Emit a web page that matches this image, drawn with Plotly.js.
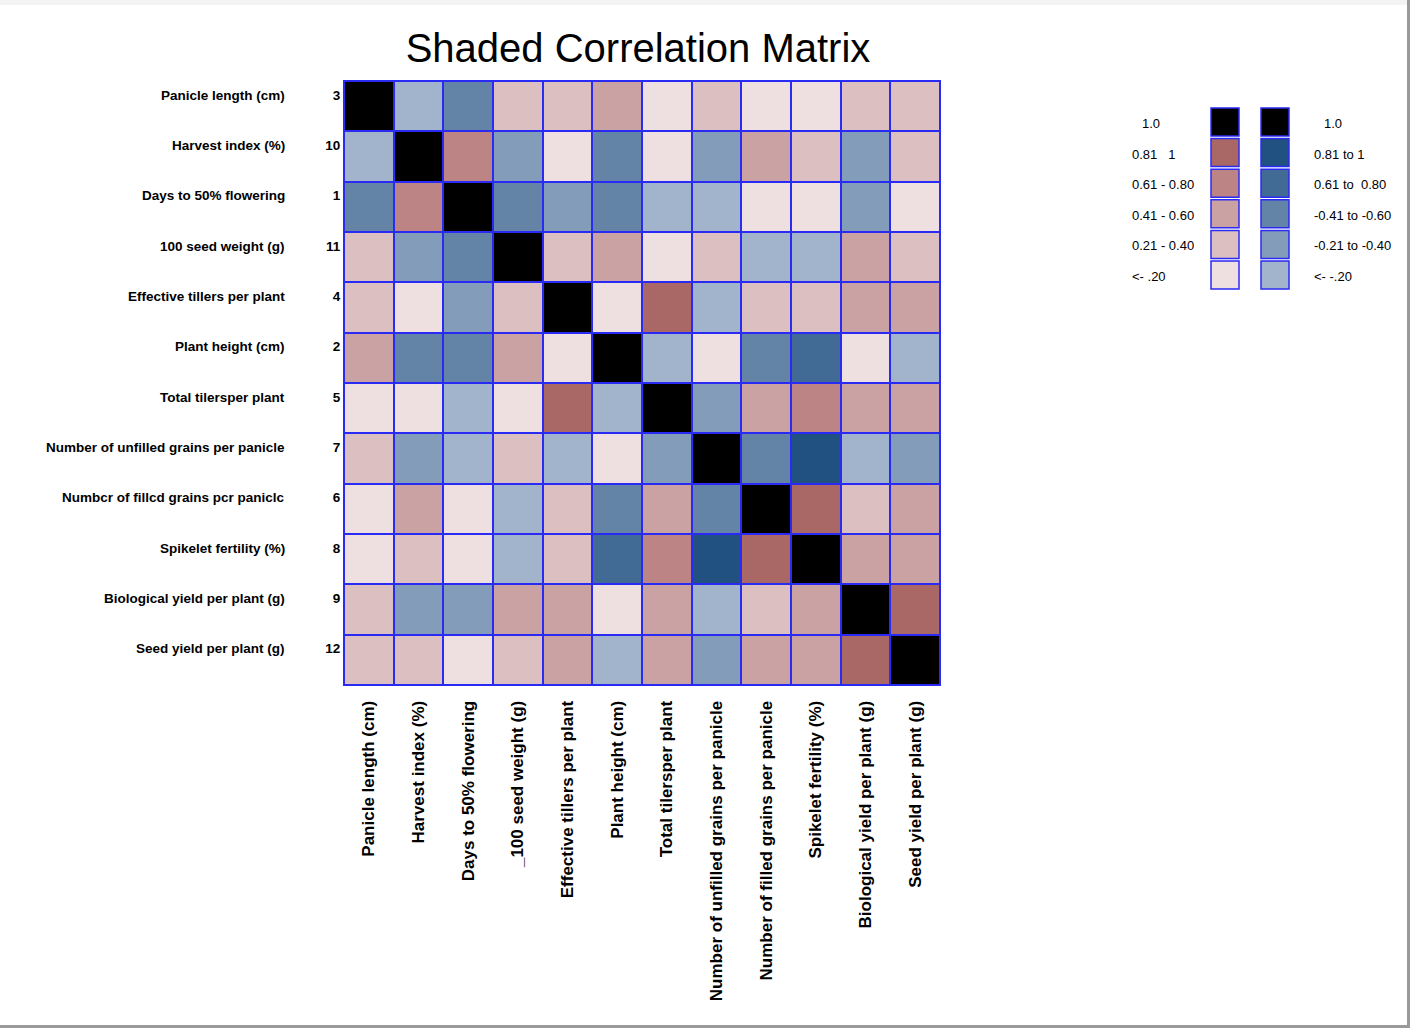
<!DOCTYPE html>
<html>
<head>
<meta charset="utf-8">
<script src="https://cdn.plot.ly/plotly-3.0.1.min.js"></script>
<style>html,body{margin:0;padding:0;background:#fff;}#chart{width:1410px;height:1028px;}</style>
</head>
<body>
<div id="chart"></div>
<script>
// Row (left) labels and their order numbers
const rowNames = ["Panicle length (cm)", "Harvest index (%)", "Days to 50% flowering", "100 seed weight (g)",
  "Effective tillers per plant", "Plant height (cm)", "Total tilersper plant", "Number of unfilled grains per panicle",
  "Numbcr of fillcd grains pcr paniclc", "Spikelet fertility (%)", "Biological yield per plant (g)", "Seed yield per plant (g)"];
const rowNumbers = ["3", "10", "1", "11", "4", "2", "5", "7", "6", "8", "9", "12"];
// Column (bottom) labels
const colNames = ["Panicle length (cm)", "Harvest index (%)", "Days to 50% flowering", "_100 seed weight (g)",
  "Effective tillers per plant", "Plant height (cm)", "Total tilersper plant", "Number of unfilled grains per panicle",
  "Number of filled grains per panicle", "Spikelet fertility (%)", "Biological yield per plant (g)", "Seed yield per plant (g)"];

// Correlations read from the shading (class mid-points)
const corr = [
  [1, -0.1, -0.5, 0.3, 0.3, 0.5, 0.1, 0.3, 0.1, 0.1, 0.3, 0.3],
  [-0.1, 1, 0.7, -0.3, 0.1, -0.5, 0.1, -0.3, 0.5, 0.3, -0.3, 0.3],
  [-0.5, 0.7, 1, -0.5, -0.3, -0.5, -0.1, -0.1, 0.1, 0.1, -0.3, 0.1],
  [0.3, -0.3, -0.5, 1, 0.3, 0.5, 0.1, 0.3, -0.1, -0.1, 0.5, 0.3],
  [0.3, 0.1, -0.3, 0.3, 1, 0.1, 0.9, -0.1, 0.3, 0.3, 0.5, 0.5],
  [0.5, -0.5, -0.5, 0.5, 0.1, 1, -0.1, 0.1, -0.5, -0.7, 0.1, -0.1],
  [0.1, 0.1, -0.1, 0.1, 0.9, -0.1, 1, -0.3, 0.5, 0.7, 0.5, 0.5],
  [0.3, -0.3, -0.1, 0.3, -0.1, 0.1, -0.3, 1, -0.5, -0.9, -0.1, -0.3],
  [0.1, 0.5, 0.1, -0.1, 0.3, -0.5, 0.5, -0.5, 1, 0.9, 0.3, 0.5],
  [0.1, 0.3, 0.1, -0.1, 0.3, -0.7, 0.7, -0.9, 0.9, 1, 0.5, 0.5],
  [0.3, -0.3, -0.3, 0.5, 0.5, 0.1, 0.5, -0.1, 0.3, 0.5, 1, 0.9],
  [0.3, 0.3, 0.1, 0.3, 0.5, -0.1, 0.5, -0.3, 0.5, 0.5, 0.9, 1]
];

// Legend classes
const legendPosLabels = ["1.0", "0.81   1", "0.61 - 0.80", "0.41 - 0.60", "0.21 - 0.40", "<- .20"];
const legendNegLabels = ["1.0", "0.81 to 1", "0.61 to  0.80", "-0.41 to -0.60", "-0.21 to -0.40", "<- -.20"];
const legendPosValues = [1, 0.9, 0.7, 0.5, 0.3, 0.1];
const legendNegValues = [1, -0.9, -0.7, -0.5, -0.3, -0.1];

const negColors = ["#215180", "#416a94", "#6384a6", "#829cb9", "#a1b4cb"]; // -1..0
const posColors = ["#eedfe1", "#dcc0c1", "#cba2a3", "#bc8484", "#a96765"]; // 0..1
const diagColor = "#000000";
const gridBlue = "#2a2af5";

function colorFor(v) {
  if (v >= 0.995) return diagColor;
  if (v >= 0) return posColors[Math.min(4, Math.floor(v / 0.2))];
  return negColors[Math.min(4, Math.floor((v + 1) / 0.2))];
}

// stepped colorscale over [-1, 1]
const cs = [];
negColors.concat(posColors).forEach((c, i) => {
  cs.push([i * 0.1, c]);
  cs.push([i === 9 ? 0.995 : (i + 1) * 0.1, c]);
});
cs.push([0.995, diagColor]);
cs.push([1, diagColor]);

const idx = rowNames.map((_, i) => i);

const W = 1410, H = 1028;
const px = x => x / W;
const py = y => 1 - y / H;

const heat = {
  type: "heatmap",
  z: corr,
  x: idx,
  y: idx,
  zmin: -1, zmax: 1,
  colorscale: cs,
  showscale: false,
  xgap: 2, ygap: 2,
  hoverinfo: "skip",
  xaxis: "x", yaxis: "y"
};

const legPos = {
  type: "scatter", mode: "markers",
  x: legendPosValues.map(() => 0), y: legendPosValues.map((_, i) => i),
  marker: { symbol: "square", size: 28, color: legendPosValues.map(colorFor), line: { color: gridBlue, width: 1.5 } },
  hoverinfo: "skip", showlegend: false, xaxis: "x2", yaxis: "y2"
};
const legNeg = {
  type: "scatter", mode: "markers",
  x: legendNegValues.map(() => 1), y: legendNegValues.map((_, i) => i),
  marker: { symbol: "square", size: 28, color: legendNegValues.map(colorFor), line: { color: gridBlue, width: 1.5 } },
  hoverinfo: "skip", showlegend: false, xaxis: "x2", yaxis: "y2"
};

const labelFont = { family: "Liberation Sans, Arial, sans-serif", size: 13.5, color: "#000", weight: "bold" };
const annotations = [];
rowNames.forEach((n, i) => {
  annotations.push({
    text: n, xref: "paper", yref: "y", x: px(287), y: i - 0.22,
    xanchor: "right", yanchor: "middle", showarrow: false, font: labelFont
  });
});
legendPosLabels.forEach((t, i) => {
  annotations.push({
    text: t, xref: "paper", yref: "y2", x: px(i === 0 ? 1140 : 1130), y: i + 0.05,
    xanchor: "left", yanchor: "middle", showarrow: false,
    font: { family: "Liberation Sans, Arial, sans-serif", size: 13, color: "#000" }
  });
});
legendNegLabels.forEach((t, i) => {
  annotations.push({
    text: t, xref: "paper", yref: "y2", x: px(i === 0 ? 1322 : 1312), y: i + 0.05,
    xanchor: "left", yanchor: "middle", showarrow: false,
    font: { family: "Liberation Sans, Arial, sans-serif", size: 13, color: "#000" }
  });
});

const layout = {
  width: W, height: H,
  margin: { l: 0, r: 0, t: 0, b: 0 },
  paper_bgcolor: "#ffffff",
  plot_bgcolor: "#ffffff",
  showlegend: false,
  title: {
    text: "Shaded Correlation Matrix",
    x: px(638), xanchor: "center", y: py(48), yanchor: "middle",
    font: { family: "Liberation Sans, Arial, sans-serif", size: 40, color: "#000" }
  },
  xaxis: {
    domain: [px(344), px(940)], anchor: "y",
    range: [-0.5, 11.5], tickmode: "array", tickvals: idx, ticktext: colNames,
    tickangle: -90, ticks: "", ticklabelstandoff: 8,
    tickfont: { family: "Liberation Sans, Arial, sans-serif", size: 17, color: "#000", weight: "bold" },
    showgrid: false, zeroline: false, showline: true, mirror: true, linecolor: gridBlue, linewidth: 1
  },
  yaxis: {
    domain: [py(685), py(81)], anchor: "x",
    range: [11.5, -0.5], tickmode: "array", tickvals: idx.map(i => i - 0.22), ticktext: rowNumbers,
    ticks: "", ticklabelstandoff: 0,
    tickfont: { family: "Liberation Sans, Arial, sans-serif", size: 13.5, color: "#000", weight: "bold" },
    showgrid: false, zeroline: false, showline: true, mirror: true, linecolor: gridBlue, linewidth: 1
  },
  xaxis2: {
    domain: [px(1200), px(1300)], anchor: "y2", range: [-0.5, 1.5],
    showgrid: false, zeroline: false, showticklabels: false, showline: false, fixedrange: true
  },
  yaxis2: {
    domain: [py(290.3), py(106.7)], anchor: "x2", range: [5.5, -0.5],
    showgrid: false, zeroline: false, showticklabels: false, showline: false, fixedrange: true
  },
  annotations: annotations,
  shapes: [
    { type: "rect", xref: "x", yref: "y", x0: -0.5, x1: 11.5, y0: -0.5, y1: 11.5, fillcolor: gridBlue, line: { width: 0 }, layer: "below" },
    { type: "rect", xref: "paper", yref: "paper", x0: 0, x1: 1, y0: py(5), y1: 1, fillcolor: "#f3f3f3", line: { width: 0 }, layer: "below" },
    { type: "line", xref: "paper", yref: "paper", x0: px(1408.5), x1: px(1408.5), y0: 0, y1: 1, line: { color: "#9a9a9a", width: 3 } },
    { type: "line", xref: "paper", yref: "paper", x0: 0, x1: 1, y0: py(1026.5), y1: py(1026.5), line: { color: "#9a9a9a", width: 3 } }
  ]
};

Plotly.newPlot("chart", [heat, legPos, legNeg], layout, { staticPlot: true, displayModeBar: false });
</script>
</body>
</html>
